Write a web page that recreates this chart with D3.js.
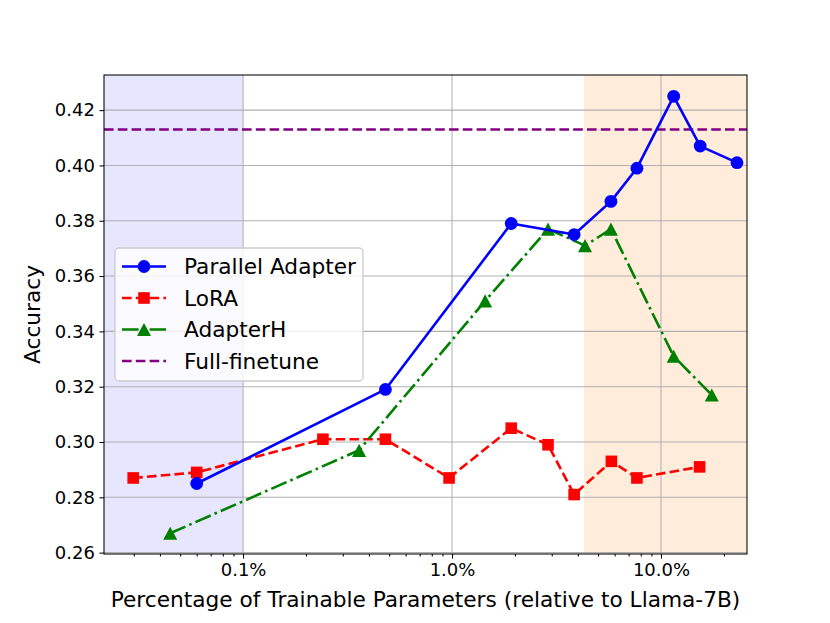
<!DOCTYPE html>
<html><head><meta charset="utf-8">
<script src="https://cdn.jsdelivr.net/npm/d3@7"></script>
<style>body{margin:0;background:#fff}svg{display:block}text{font-family:"DejaVu Sans",sans-serif}</style>
</head><body><svg id="c" width="830" height="623"></svg>
<script>
const paX=[0.060,0.48,1.92,3.84,5.76,7.67,11.5,15.4,23.1];
const paY=[0.285,0.319,0.379,0.375,0.387,0.399,0.425,0.407,0.401];
const loraX=[0.0298,0.060,0.241,0.48,0.968,1.92,2.88,3.84,5.79,7.67,15.3];
const loraY=[0.287,0.289,0.301,0.301,0.287,0.305,0.299,0.281,0.293,0.287,0.291];
const ahX=[0.0448,0.359,1.44,2.88,4.33,5.76,11.5,17.5];
const ahY=[0.267,0.297,0.351,0.377,0.371,0.377,0.331,0.317];
const fullFT=0.413;
const yTicks=[0.26,0.28,0.30,0.32,0.34,0.36,0.38,0.40,0.42];
const xTicks=[0.1,1,10];
const xTickLabels=["0.1%","1.0%","10.0%"];
const lowSpan=[0.0216,0.1], highSpan=[4.28,25.8];

const svg=d3.select("#c");
const L=104,R=747,T=75,B=554;
const x=d3.scaleLog().domain([0.0216,25.8]).range([L,R]);
const y=d3.scaleLinear().domain([0.2595,0.4327]).range([B,T]);
const lw=2.6;

// spans
svg.append("rect").attr("x",x(lowSpan[0])).attr("y",T).attr("width",x(lowSpan[1])-x(lowSpan[0])).attr("height",B-T).attr("fill","rgb(230,230,255)");
svg.append("rect").attr("x",x(highSpan[0])).attr("y",T).attr("width",x(highSpan[1])-x(highSpan[0])).attr("height",B-T).attr("fill","rgb(255,236,219)");

// grid
const g=svg.append("g");
yTicks.forEach(v=>g.append("line").attr("x1",L).attr("x2",R).attr("y1",y(v)).attr("y2",y(v)).attr("stroke","#b0b0b0").attr("stroke-width",1.04));
xTicks.forEach(v=>g.append("line").attr("y1",T).attr("y2",B).attr("x1",x(v)).attr("x2",x(v)).attr("stroke","#b0b0b0").attr("stroke-width",1.04));

// axes
const xAxis=d3.axisBottom(x).tickValues(xTicks).tickFormat((d,i)=>xTickLabels[i]).tickSize(4.55).tickPadding(4.55);
const minor=[];
[0.01,0.1,1,10].forEach(b=>{for(let k=2;k<=9;k++){const v=b*k;if(v>=0.0216&&v<=25.8)minor.push(v);}});
const ax=svg.append("g").attr("transform",`translate(0,${B})`).call(xAxis);
const axm=svg.append("g").attr("transform",`translate(0,${B})`).call(d3.axisBottom(x).tickValues(minor).tickFormat("").tickSize(2.6));
const ay=svg.append("g").attr("transform",`translate(${L},0)`).call(d3.axisLeft(y).tickValues(yTicks).tickFormat(d3.format(".2f")).tickSize(4.55).tickPadding(4.55));
[ax,axm,ay].forEach(a=>{a.select(".domain").remove();a.selectAll("line").attr("stroke","#000").attr("stroke-width",1.04);a.selectAll("text").attr("font-size","18px").attr("fill","#000").style("font-family","DejaVu Sans");});

// lines
function series(xs,ys,color,dash,marker){
  const pts=xs.map((v,i)=>[x(v),y(ys[i])]);
  svg.append("path").attr("d",d3.line()(pts)).attr("fill","none").attr("stroke",color).attr("stroke-width",lw).attr("stroke-dasharray",dash).attr("stroke-linejoin","round");
  pts.forEach(p=>drawMarker(p[0],p[1],marker,color));
}
function drawMarker(cx,cy,m,color){
  if(m==="o")svg.append("circle").attr("cx",cx).attr("cy",cy).attr("r",6.4).attr("fill",color);
  else if(m==="s")svg.append("rect").attr("x",cx-5.8).attr("y",cy-5.8).attr("width",11.6).attr("height",11.6).attr("fill",color);
  else if(m==="^")svg.append("path").attr("d","M0,-6.6L7,6.6L-7,6.6Z").attr("transform",`translate(${cx},${cy})`).attr("fill",color);
}
// full finetune
svg.append("line").attr("x1",L).attr("x2",R).attr("y1",y(fullFT)).attr("y2",y(fullFT)).attr("stroke","purple").attr("stroke-width",lw).attr("stroke-dasharray","9.6,4.2");
series(loraX,loraY,"red","9.6,4.2","s");
series(ahX,ahY,"green","16.6,4.2,2.6,4.2","^");
series(paX,paY,"blue",null,"o");

// frame
svg.append("rect").attr("x",L).attr("y",T).attr("width",R-L).attr("height",B-T).attr("fill","none").attr("stroke","#000").attr("stroke-width",1.04);

// labels
svg.append("text").attr("x",(L+R)/2).attr("y",607).attr("text-anchor","middle").attr("font-size","21.7px").text("Percentage of Trainable Parameters (relative to Llama-7B)");
svg.append("text").attr("transform",`translate(40,${(T+B)/2}) rotate(-90)`).attr("text-anchor","middle").attr("font-size","21.7px").text("Accuracy");

// legend
const lg=svg.append("g");
lg.append("rect").attr("x",115).attr("y",248).attr("width",248).attr("height",133).attr("rx",4).attr("fill","#fff").attr("fill-opacity",0.8).attr("stroke","#cccccc").attr("stroke-width",1.3);
const items=[["Parallel Adapter","blue",null,"o"],["LoRA","red","9.6,4.2","s"],["AdapterH","green","16.6,4.2,2.6,4.2","^"],["Full-finetune","purple","9.6,4.2",null]];
items.forEach((it,i)=>{
  const cy=266.5+i*31.5;
  lg.append("line").attr("x1",122).attr("x2",166).attr("y1",cy).attr("y2",cy).attr("stroke",it[1]).attr("stroke-width",lw).attr("stroke-dasharray",it[2]);
  if(it[3]){drawMarker(144,cy,it[3],it[1]);}
  lg.append("text").attr("x",184).attr("y",cy+7.8).attr("font-size","21.7px").text(it[0]);
});
</script></body></html>
